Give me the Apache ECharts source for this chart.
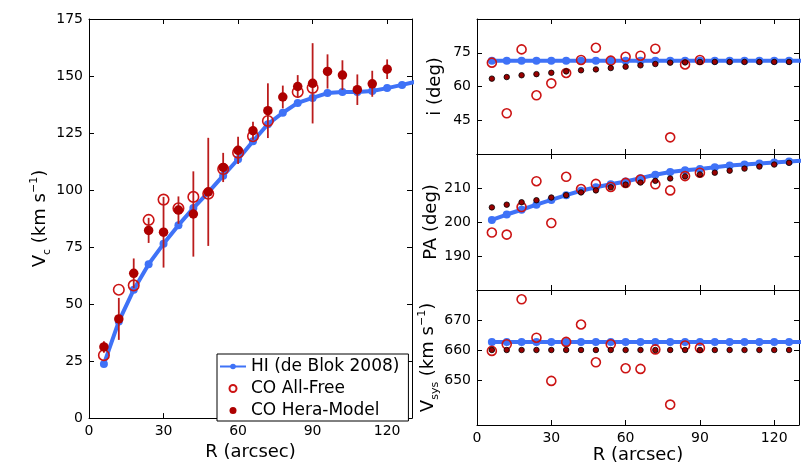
<!DOCTYPE html>
<html>
<head>
<meta charset="utf-8">
<script src="https://cdn.jsdelivr.net/npm/echarts@6/dist/echarts.min.js"></script>
<style>
html,body{margin:0;padding:0;background:#fff;}
#chart{width:802px;height:466px;}
</style>
</head>
<body>
<div id="chart"></div>
<script>
// ---------------- data ----------------
const R_HI   = [6,12,18,24,30,36,42,48,54,60,66,72,78,84,90,96,102,108,114,120,126,132];
const R_FREE = [6,12,18,24,30,36,42,48,54,60,66,72,78,84,90];
const R_HERA = [6,12,18,24,30,36,42,48,54,60,66,72,78,84,90,96,102,108,114,120,126];

const VC_HI   = [23.7,42.4,56.3,67.5,76.4,84.6,92.1,99.0,106.3,113.5,121.4,128.9,133.9,138.2,140.4,142.5,143.0,143.0,143.4,144.7,146.1,147.6];
const VC_FREE = [27.6,56.3,58.2,86.9,95.8,92.0,97.0,98.4,109.2,116.4,123.6,130.3,null,143.0,144.8];
const VC_HERA = [31.2,43.5,63.5,82.3,81.5,91.2,89.5,99.2,109.9,117.4,126.0,134.8,140.8,145.4,146.8,152.0,150.4,144.0,146.6,153.0];
const VC_HERA_ERR = [2.5,9.2,6.5,5.5,15.5,6.0,18.7,23.7,6.4,6.0,4.0,12.0,5.0,5.0,17.6,7.5,6.5,6.7,5.7,4.3];

const INC_HI   = [71.5,71.5,71.5,71.5,71.5,71.5,71.5,71.5,71.5,71.5,71.5,71.5,71.5,71.5,71.5,71.5,71.5,71.5,71.5,71.5,71.5,71.5];
const INC_FREE = [70.6,48.1,76.5,56.1,61.4,66.0,71.8,77.2,71.5,73.2,73.7,76.8,37.4,69.8,71.8];
const INC_HERA = [63.5,64.2,65.0,65.5,66.1,66.7,67.2,67.6,68.2,68.8,69.4,70.0,70.6,70.7,70.9,70.9,70.9,70.9,70.9,70.9,70.9];

const PA_HI   = [200.6,202.2,203.6,205.1,206.5,207.9,209.2,210.2,211.1,211.9,212.9,213.9,214.7,215.2,215.6,216.1,216.6,216.9,217.2,217.5,217.8,218.1];
const PA_FREE = [196.9,196.3,204.4,212.0,199.7,213.3,209.7,211.2,210.3,211.5,212.5,211.1,209.3,213.5,214.5];
const PA_HERA = [204.3,205.1,205.8,206.4,207.2,207.9,208.7,209.3,210.2,211.0,211.6,212.1,212.8,213.4,214.0,214.5,215.1,215.7,216.3,216.9,217.4];

const VSYS_HI   = [662.7,662.7,662.7,662.7,662.7,662.7,662.7,662.7,662.7,662.7,662.7,662.7,662.7,662.7,662.7,662.7,662.7,662.7,662.7,662.7,662.7,662.7];
const VSYS_FREE = [659.7,661.9,676.9,664.1,649.7,662.7,668.5,655.9,661.9,653.9,653.7,660.2,641.8,661.5,660.7];
const VSYS_HERA = [660,660,660,660,660,660,660,660,660,660,660,660,660,660,660,660,660,660,660,660,660];

const X_TICKS = [0,30,60,90,120];
const VC_TICKS = [0,25,50,75,100,125,150,175];
const INC_TICKS = [45,60,75];
const PA_TICKS = [190,200,210];
const VSYS_TICKS = [650,660,670];

const LEGEND = ['HI (de Blok 2008)','CO All-Free','CO Hera-Model'];

// ---------------- styling ----------------
const FONT = 'DejaVu Sans';
const BLUE = '#3f72f7';
const RED_OPEN = '#cc1414';
const RED_FILL = '#ad0000';
const RED_DOT = '#990000';

const zip = (xs, ys) => ys.map((y, i) => [xs[i], y]).filter(p => p[1] !== null && p[1] !== undefined);

const grids = [
  {left: 89,  top: 19,  width: 323, height: 406},
  {left: 477, top: 19,  width: 322, height: 135},
  {left: 477, top: 154, width: 322, height: 136},
  {left: 477, top: 290, width: 322, height: 135}
];

const lineStyleAx = {show: true, onZero: false, lineStyle: {color: '#000', width: 1}};
const tickStyle = (vals) => ({show: true, inside: true, length: 5, customValues: vals, lineStyle: {color: '#000', width: 1}});
const labelStyle = (vals, show) => ({show: show, customValues: vals, fontSize: 14, fontFamily: FONT, color: '#000', margin: 6});

function xPair(g, showLabels, name) {
  const base = {gridIndex: g, type: 'value', min: 0, max: 130, splitLine: {show: false}, axisLine: lineStyleAx};
  return [
    Object.assign({}, base, {position: 'bottom', axisTick: tickStyle(X_TICKS), axisLabel: labelStyle(X_TICKS, showLabels),
      name: name || '', nameLocation: 'middle', nameGap: 20,
      nameTextStyle: {fontSize: 18, fontFamily: FONT, color: '#000'}}),
    Object.assign({}, base, {position: 'top', axisTick: tickStyle(X_TICKS), axisLabel: {show: false}})
  ];
}

const richName = {
  a: {fontSize: 18, fontFamily: FONT, color: '#000', lineHeight: 24},
  b: {fontSize: 11, fontFamily: FONT, color: '#000', lineHeight: 11, verticalAlign: 'bottom'},
  c: {fontSize: 11, fontFamily: FONT, color: '#000', lineHeight: 11, verticalAlign: 'top'}
};

function yPair(g, min, max, ticks, name, gap) {
  const base = {gridIndex: g, type: 'value', min: min, max: max, splitLine: {show: false}, axisLine: lineStyleAx};
  return [
    Object.assign({}, base, {position: 'left', axisTick: tickStyle(ticks), axisLabel: labelStyle(ticks, true),
      name: name, nameLocation: 'middle', nameGap: gap, nameRotate: 90,
      nameTextStyle: {fontSize: 18, fontFamily: FONT, color: '#000', rich: richName}}),
    Object.assign({}, base, {position: 'right', axisTick: tickStyle(ticks), axisLabel: {show: false}})
  ];
}

const xAxes = [].concat(
  xPair(0, true, 'R (arcsec)'),
  xPair(1, false),
  xPair(2, false),
  xPair(3, true, 'R (arcsec)')
);
const yAxes = [].concat(
  yPair(0, 0, 175, VC_TICKS, '{a|V}{b|c}{a| (km s}{c|−1}{a|)}', 30),
  yPair(1, 30, 90, INC_TICKS, '{a|i (deg)}', 30),
  yPair(2, 180, 220, PA_TICKS, '{a|PA (deg)}', 30),
  yPair(3, 635, 680, VSYS_TICKS, '{a|V}{b|sys}{a| (km s}{c|−1}{a|)}', 30)
);

function hiSeries(g, name, data) {
  return {name: name, type: 'line', xAxisIndex: 2*g, yAxisIndex: 2*g, data: data,
    symbol: 'circle', symbolSize: 8, showSymbol: true, clip: true, z: 2,
    lineStyle: {color: BLUE, width: 4}, itemStyle: {color: BLUE, opacity: 1}, animation: false};
}
function openSeries(g, name, data, size) {
  return {name: name, type: 'scatter', xAxisIndex: 2*g, yAxisIndex: 2*g, data: data,
    symbol: 'circle', symbolSize: size, z: 3, clip: true,
    itemStyle: {color: 'rgba(255,255,255,0)', borderColor: RED_OPEN, borderWidth: 1.6, opacity: 1}, animation: false};
}
function dotSeries(g, name, data) {
  return {name: name, type: 'scatter', xAxisIndex: 2*g, yAxisIndex: 2*g, data: data,
    symbol: 'circle', symbolSize: 5.5, z: 5, clip: true,
    itemStyle: {color: RED_DOT, borderColor: '#000', borderWidth: 0.8, opacity: 1}, animation: false};
}

const errData = VC_HERA.map((v, i) => [R_HERA[i], v, VC_HERA_ERR[i]]);

const series = [
  hiSeries(0, LEGEND[0], zip(R_HI, VC_HI)),
  openSeries(0, LEGEND[1], zip(R_FREE, VC_FREE), 10.5),
  {
    name: 'errbar', type: 'custom', xAxisIndex: 0, yAxisIndex: 0, z: 4, data: errData, animation: false,
    renderItem: function (params, api) {
      const x = api.value(0), y = api.value(1), e = api.value(2);
      const p1 = api.coord([x, y - e]);
      const p2 = api.coord([x, y + e]);
      return {type: 'line', shape: {x1: p1[0], y1: p1[1], x2: p2[0], y2: p2[1]},
        style: {stroke: '#bb1c1c', lineWidth: 1.8}};
    }
  },
  {name: LEGEND[2], type: 'scatter', xAxisIndex: 0, yAxisIndex: 0, data: zip(R_HERA, VC_HERA),
    symbol: 'circle', symbolSize: 9.5, z: 5, itemStyle: {color: RED_FILL, opacity: 1}, animation: false},

  hiSeries(1, 'hi_i', zip(R_HI, INC_HI)),
  openSeries(1, 'free_i', zip(R_FREE, INC_FREE), 9),
  dotSeries(1, 'hera_i', zip(R_HERA, INC_HERA)),

  hiSeries(2, 'hi_pa', zip(R_HI, PA_HI)),
  openSeries(2, 'free_pa', zip(R_FREE, PA_FREE), 9),
  dotSeries(2, 'hera_pa', zip(R_HERA, PA_HERA)),

  hiSeries(3, 'hi_v', zip(R_HI, VSYS_HI)),
  openSeries(3, 'free_v', zip(R_FREE, VSYS_FREE), 9),
  dotSeries(3, 'hera_v', zip(R_HERA, VSYS_HERA))
];

const chart = echarts.init(document.getElementById('chart'), null, {renderer: 'canvas'});
chart.setOption({
  backgroundColor: '#fff',
  animation: false,
  textStyle: {fontFamily: FONT},
  grid: grids,
  xAxis: xAxes,
  yAxis: yAxes,
  legend: {
    data: LEGEND, orient: 'vertical', left: 217, top: 354,
    itemWidth: 26, itemHeight: 7, itemGap: 5, padding: [4, 9, 2, 2],
    backgroundColor: '#fff', borderColor: '#000', borderWidth: 1, borderRadius: 0,
    selectedMode: false,
    textStyle: {fontSize: 17, fontFamily: FONT, color: '#000'}
  },
  series: series
});
</script>
</body>
</html>
